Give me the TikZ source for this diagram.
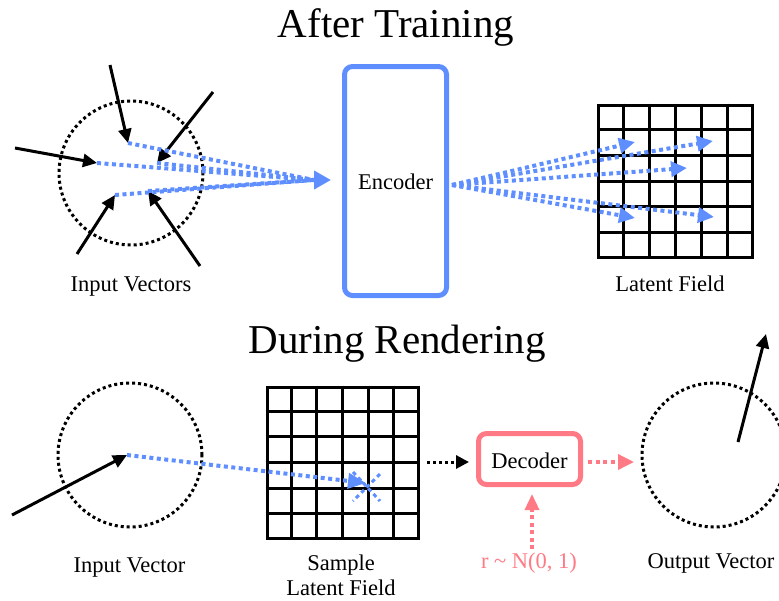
\documentclass[tikz,border=0pt]{standalone}
\usepackage{fontspec}
\setmainfont{Liberation Serif}
\usetikzlibrary{arrows.meta,calc}
\definecolor{encblue}{RGB}{95,143,255}
\definecolor{decpink}{RGB}{255,122,133}
\tikzset{
  lbl/.style={anchor=base, inner sep=0pt, font=\fontsize{22.5pt}{27pt}\selectfont},
  ttl/.style={anchor=base, inner sep=0pt, font=\fontsize{41pt}{48pt}\selectfont},
  dotcircle/.style={circle, draw=black, line width=3pt, dash pattern=on 3pt off 3pt, minimum size=144pt, inner sep=0pt},
  blackarrow/.style={draw=black, line width=3pt, -{Triangle[length=14pt,width=13pt]}},
  bluedot/.style={draw=encblue, line width=4pt, dash pattern=on 4pt off 3.5pt},
  bluearrow/.style={bluedot, -{Triangle[length=16pt,width=15pt]}},
  pinkarrow/.style={draw=decpink, line width=3.5pt, dash pattern=on 4pt off 3.5pt, -{Triangle[length=16pt,width=15pt]}},
  blackdotarrow/.style={draw=black, line width=3pt, dash pattern=on 3pt off 3pt, -{Triangle[length=13pt,width=13pt]}},
  gridbox/.style={draw=black, line width=3pt, minimum width=154pt, minimum height=152pt, inner sep=0pt, anchor=north west},
  gridline/.style={draw=black, line width=3pt},
  encbox/.style={draw=encblue, line width=5pt, rounded corners=8pt, minimum width=102pt, minimum height=229pt, inner sep=0pt},
  decbox/.style={draw=decpink, line width=5pt, rounded corners=8pt, minimum width=102pt, minimum height=51pt, inner sep=0pt},
}
\begin{document}
\begin{tikzpicture}[x=1pt,y=-1pt]
\useasboundingbox (0,0) rectangle (779,600);

% ---------- After Training ----------
\node[ttl] (t1) at (396,37) {After Training};

\node[dotcircle] (inc) at (131,173) {};
\coordinate (s1) at (110,65);  \coordinate (p1) at (128,143);
\coordinate (s2) at (213,92);  \coordinate (p2) at (157,163);
\coordinate (s3) at (15,148);  \coordinate (p3) at (97,163);
\coordinate (s4) at (77,254);  \coordinate (p4) at (115,195);
\coordinate (s5) at (200,266); \coordinate (p5) at (148,191);
\foreach \i in {1,...,5} { \draw[blackarrow] (s\i) -- (p\i); }

\coordinate (conv) at (314,180);
\coordinate (encin) at (331,180);
\foreach \i in {1,...,5} { \draw[bluedot] (p\i) -- (conv); }
\draw[bluedot, -{Triangle[length=17pt,width=18pt]}] (conv) -- (encin);

\node[lbl] (l1) at (131,291) {Input Vectors};

\node[encbox] (enc) at (395.5,181) {};
\node[lbl] (enctxt) at (395.5,189) {Encoder};

\node[gridbox] (lf) at (597,103.5) {};
\foreach \i in {1,...,5} {
  \draw[gridline] ($(lf.north west)!\i/6!(lf.north east)$) -- ($(lf.south west)!\i/6!(lf.south east)$);
  \draw[gridline] ($(lf.north west)!\i/6!(lf.south west)$) -- ($(lf.north east)!\i/6!(lf.south east)$);
}
\coordinate (eo) at (452,185);
\coordinate (q1) at (635,142);
\coordinate (q2) at (713,141);
\coordinate (q3) at (687,168);
\coordinate (q4) at (635,218);
\coordinate (q5) at (714,217);
\foreach \i in {1,...,5} { \draw[bluearrow] (eo) -- (q\i); }

\node[lbl] (l2) at (670,291) {Latent Field};

% ---------- During Rendering ----------
\node[ttl] (t2) at (397,353) {During Rendering};

\node[dotcircle] (inc2) at (130,455) {};
\coordinate (bs) at (12,515);
\coordinate (bp) at (127,455);
\draw[blackarrow] (bs) -- (bp);
\node[lbl] (l3) at (129.5,572) {Input Vector};

\node[gridbox, minimum width=151pt, minimum height=151pt] (slf) at (265.5,385.5) {};
\foreach \i in {1,...,5} {
  \draw[gridline] ($(slf.north west)!\i/6!(slf.north east)$) -- ($(slf.south west)!\i/6!(slf.south east)$);
  \draw[gridline] ($(slf.north west)!\i/6!(slf.south west)$) -- ($(slf.north east)!\i/6!(slf.south east)$);
}
\coordinate (sp) at (366,483);
\draw[bluearrow, -{Triangle[length=18pt,width=15pt]}] (bp) -- (sp);
\coordinate (x1) at (353,472); \coordinate (x2) at (380,501);
\coordinate (x3) at (380,474); \coordinate (x4) at (353,501);
\draw[bluedot, line width=3pt] (x1) -- (x2);
\draw[bluedot, line width=3pt] (x3) -- (x4);
\node[lbl] (l4) at (341,570) {Sample};
\node[lbl] (l5) at (341,595) {Latent Field};

\node[decbox] (dec) at (529.5,459) {};
\node[lbl] (dectxt) at (529.5,468) {Decoder};
\coordinate (ga) at (427,462);
\coordinate (gb) at (469,462);
\draw[blackdotarrow] (ga) -- (gb);
\coordinate (da) at (588,462);
\coordinate (db) at (634,462);
\draw[pinkarrow] (da) -- (db);
\coordinate (ra) at (532,549);
\coordinate (rb) at (532,494);
\draw[pinkarrow, -{Triangle[length=16pt,width=14pt]}] (ra) -- (rb);
\node[lbl, text=decpink] (rn) at (529,568) {r \textasciitilde{} N(0, 1)};

\node[dotcircle] (outc) at (714,455) {};
\coordinate (os) at (738,442);
\coordinate (oe) at (766,334);
\draw[blackarrow] (os) -- (oe);
\node[lbl] (l6) at (711,568) {Output Vector};
\end{tikzpicture}
\end{document}
